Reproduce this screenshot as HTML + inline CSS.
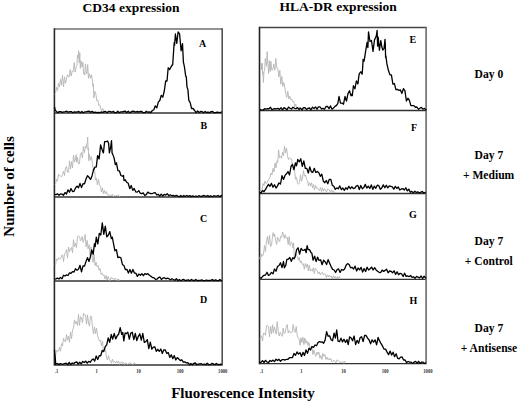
<!DOCTYPE html>
<html><head><meta charset="utf-8"><style>
html,body{margin:0;padding:0;background:#fff;}
body{width:520px;height:402px;overflow:hidden;position:relative;}
svg{position:absolute;left:0;top:0;}
text{font-family:"Liberation Serif",serif;font-weight:bold;fill:#000;}
.lt{font-size:10px;}
.tk{font-size:6.4px;fill:#333;}
.hd{font-size:13.5px;}
.dl{font-size:11.6px;}
.ax{font-size:15px;}
</style></head><body>
<svg width="520" height="402" viewBox="0 0 520 402">
<text x="82.6" y="11.7" class="hd">CD34 expression</text>
<text x="279.6" y="11" class="hd">HLA-DR expression</text>
<text x="488.9" y="77.9" class="dl" text-anchor="middle">Day 0</text>
<text x="488.9" y="158.7" class="dl" text-anchor="middle">Day 7</text>
<text x="488.6" y="178.8" class="dl" text-anchor="middle">+ Medium</text>
<text x="488.9" y="245" class="dl" text-anchor="middle">Day 7</text>
<text x="488.8" y="264.6" class="dl" text-anchor="middle">+ Control</text>
<text x="488.9" y="331.9" class="dl" text-anchor="middle">Day 7</text>
<text x="489" y="351.9" class="dl" text-anchor="middle">+ Antisense</text>
<text x="0" y="0" class="ax" transform="translate(13.55,186.4) rotate(-90)" text-anchor="middle">Number of cells</text>
<text x="171.2" y="398.1" class="ax">Fluorescence Intensity</text>
<line x1="54.4" y1="29" x2="222.2" y2="29" stroke="#707070" stroke-width="1.5"/>
<line x1="54.4" y1="113" x2="222.2" y2="113" stroke="#333" stroke-width="1.3"/>
<line x1="54.4" y1="197" x2="222.2" y2="197" stroke="#333" stroke-width="1.3"/>
<line x1="54.4" y1="281" x2="222.2" y2="281" stroke="#333" stroke-width="1.3"/>
<line x1="54.4" y1="365" x2="222.2" y2="365" stroke="#333" stroke-width="1.3"/>
<line x1="222.2" y1="28.3" x2="222.2" y2="365.6" stroke="#505050" stroke-width="1.6"/>
<line x1="54.4" y1="28.3" x2="54.4" y2="365.6" stroke="#2a2a2a" stroke-width="1.6"/>
<line x1="259.5" y1="27.4" x2="426.1" y2="27.4" stroke="#444" stroke-width="1.5"/>
<line x1="259.5" y1="110.5" x2="426.1" y2="110.5" stroke="#333" stroke-width="1.3"/>
<line x1="259.5" y1="193.5" x2="426.1" y2="193.5" stroke="#333" stroke-width="1.3"/>
<line x1="259.5" y1="279.3" x2="426.1" y2="279.3" stroke="#333" stroke-width="1.3"/>
<line x1="259.5" y1="363.7" x2="426.1" y2="363.7" stroke="#333" stroke-width="1.3"/>
<line x1="426.1" y1="26.7" x2="426.1" y2="364.3" stroke="#6a6a6a" stroke-width="1.6"/>
<line x1="259.5" y1="26.7" x2="259.5" y2="364.3" stroke="#222" stroke-width="1.6"/>
<polyline points="54.5,94.0 55.5,93.2 56.5,87.4 57.5,90.4 58.5,83.2 59.5,86.8 60.5,79.3 61.5,85.2 62.5,75.2 63.5,87.0 64.5,76.8 65.5,83.4 66.4,79.8 67.4,74.7 68.3,75.9 69.2,77.1 70.2,69.5 71.2,76.0 72.2,71.1 73.2,71.6 74.2,62.6 75.2,72.1 76.2,66.7 76.9,66.2 77.5,55.1 78.1,57.9 78.6,50.6 79.2,62.9 79.8,52.8 80.3,68.4 81.1,60.8 82.1,67.1 82.9,62.3 83.6,73.7 84.2,72.7 84.8,75.1 85.4,63.9 86.1,71.6 86.9,73.8 87.7,64.5 88.5,78.3 89.5,73.8 90.5,78.2 91.5,74.8 92.5,81.9 93.0,86.6 93.3,83.9 93.5,86.7 93.8,98.0 94.8,91.3 95.8,93.7 96.8,100.8 97.8,100.0 98.8,105.5 99.8,104.8 100.8,109.3 101.8,110.8 102.8,108.5 103.8,111.6 104.8,110.5 105.8,111.0 106.8,112.7 107.8,111.6 108.8,112.6 109.8,112.1 109.8,112.3" fill="none" stroke="#b4b4b4" stroke-width="0.9" stroke-linejoin="round"/>
<polyline points="54.5,106.8 55.1,109.8 56.3,111.4 57.8,112.6 59.3,111.6 60.8,111.7 62.3,112.3 63.8,111.8 65.3,111.7 66.8,111.2 68.3,112.2 69.8,111.7 71.3,111.6 72.8,112.7 74.3,111.8 75.8,112.2 77.3,112.0 78.8,111.4 80.3,112.7 81.8,111.5 83.3,112.7 84.8,111.9 86.3,111.7 87.8,111.4 89.3,111.2 90.8,112.3 92.3,111.3 93.8,112.7 95.3,112.1 96.8,112.7 98.3,112.4 99.8,112.7 101.3,112.0 102.8,112.3 104.3,111.7 105.8,111.7 107.3,112.7 108.8,111.3 110.3,111.6 111.8,112.2 113.3,111.3 114.8,112.7 116.3,112.7 117.8,111.2 119.3,112.7 120.8,111.8 122.3,111.8 123.8,111.3 125.3,111.2 126.8,112.6 128.3,111.3 129.8,112.7 131.3,111.9 132.8,111.1 134.3,111.5 135.8,112.1 137.3,111.4 138.8,112.1 140.3,111.3 141.8,111.5 143.3,112.7 144.8,112.7 146.3,111.2 147.8,112.2 149.3,111.9 150.8,112.6 152.3,110.5 153.8,109.7 155.3,105.8 156.8,107.9 158.3,102.1 159.8,100.5 161.3,95.3 162.8,97.2 164.3,91.0 165.7,80.9 167.0,81.0 168.2,67.8 169.7,69.5 171.2,66.5 172.7,64.5 173.9,46.4 174.3,42.3 174.6,45.2 175.4,34.0 176.8,43.3 178.1,32.0 179.6,34.0 181.1,50.8 182.5,43.6 183.4,62.1 184.3,66.1 185.0,70.9 185.7,76.2 186.3,76.8 187.0,87.0 187.9,89.6 188.8,100.4 190.1,102.4 191.6,108.5 193.1,108.5 194.6,110.5 196.1,112.7 197.6,110.9 199.1,112.5 200.6,111.4 202.1,111.6 203.6,112.7 205.1,111.5 206.6,112.5 208.1,112.2 209.6,112.7 211.1,111.6 212.6,111.5 214.1,112.7 215.6,112.7 217.1,112.1 218.6,112.3 220.1,112.6 221.6,112.0 221.9,112.3" fill="none" stroke="#000" stroke-width="1.3" stroke-linejoin="round"/>
<polyline points="54.5,184.2 55.5,183.9 56.5,179.5 57.5,181.1 58.5,174.3 59.5,175.9 60.5,176.0 61.5,176.9 62.5,174.5 63.5,171.3 64.5,175.5 65.5,168.1 66.5,166.5 67.5,172.1 68.5,172.3 69.5,160.9 70.5,169.1 71.5,161.7 72.5,167.8 73.5,155.0 74.5,162.1 75.5,159.1 76.1,154.7 76.7,162.1 77.4,157.3 78.4,163.9 79.4,163.7 80.4,154.4 81.4,152.5 82.4,158.0 83.4,146.5 84.4,152.8 85.4,146.2 86.2,148.1 86.8,143.5 87.3,142.7 87.7,137.0 88.0,149.9 88.4,147.9 88.7,160.8 89.4,154.4 90.4,160.2 91.4,156.6 92.4,163.5 93.4,169.9 94.4,167.0 95.4,180.1 96.4,178.0 97.4,184.8 98.4,179.4 99.4,184.9 100.4,186.2 101.4,192.0 102.4,187.8 103.4,193.7 104.4,190.2 105.4,193.9 106.4,191.5 107.4,194.6 108.4,194.4 109.4,196.1 110.4,195.0 111.4,195.8 112.4,194.1 113.4,196.7 114.4,195.5 115.4,196.1 116.4,195.5 117.4,195.9 118.4,195.0 119.4,196.7 119.9,196.0" fill="none" stroke="#b4b4b4" stroke-width="0.9" stroke-linejoin="round"/>
<polyline points="54.5,194.5 56.0,194.6 57.5,193.8 59.0,195.3 60.5,194.0 62.0,194.1 63.5,195.3 65.0,192.6 66.5,194.0 68.0,189.8 69.5,192.2 71.0,188.5 72.5,191.5 74.0,191.3 75.5,188.0 77.0,186.1 78.5,187.8 80.0,183.4 81.5,187.6 83.0,183.7 84.5,183.8 86.0,179.0 87.5,175.7 89.0,177.3 90.5,179.4 92.0,175.9 93.5,169.9 95.0,167.1 96.3,166.9 97.6,155.6 99.1,159.0 100.6,144.9 102.0,149.2 103.4,152.9 104.6,141.7 106.1,141.6 107.6,141.0 108.6,143.4 109.4,152.9 110.1,149.5 110.8,146.4 111.5,140.6 112.1,153.2 112.8,154.4 114.2,158.4 115.3,164.7 116.4,162.7 117.9,170.6 119.4,170.8 120.9,175.5 122.4,176.3 123.5,175.5 124.0,180.5 125.2,179.8 126.8,182.3 128.2,183.3 129.8,188.7 131.2,185.5 132.8,190.4 134.2,188.4 135.8,191.9 137.2,192.1 138.8,190.6 140.2,193.1 141.8,193.7 143.2,192.9 144.8,195.5 146.2,194.6 147.8,192.1 149.2,193.1 150.8,193.5 152.2,193.7 153.8,192.8 155.2,192.7 156.8,195.0 158.2,194.3 159.8,196.1 161.2,194.1 162.8,196.0 164.2,194.4 165.8,195.1 167.2,193.7 168.8,195.7 170.2,194.8 171.8,195.7 173.2,195.4 174.8,196.2 176.2,195.4 177.8,196.2 179.2,196.7 180.8,195.5 182.2,196.7 183.8,195.4 185.2,196.5 186.8,195.5 188.2,196.3 189.8,195.6 191.2,196.7 192.8,195.9 194.2,196.7 195.8,196.0 197.2,196.7 198.8,195.7 200.2,196.2 201.8,196.5 203.2,195.5 204.8,195.9 206.2,196.3 207.8,195.5 209.2,196.7 210.8,195.9 212.2,196.7 213.8,195.7 215.2,196.1 216.8,196.1 218.2,195.5 219.8,196.7 221.2,195.5 222.0,196.3" fill="none" stroke="#000" stroke-width="1.3" stroke-linejoin="round"/>
<polyline points="54.5,264.1 55.5,265.0 56.5,258.9 57.5,260.2 58.5,257.8 59.5,259.0 60.5,258.8 61.5,255.8 62.5,254.8 63.5,261.6 64.5,253.8 65.5,252.7 66.5,249.6 67.5,258.1 68.5,247.0 69.5,251.6 70.5,249.1 71.5,247.5 72.5,252.8 73.5,239.6 74.5,246.9 75.5,243.2 76.5,247.6 77.5,236.3 78.5,235.7 79.5,236.8 80.5,240.9 81.3,239.5 82.2,236.4 83.1,242.4 84.1,239.9 85.1,234.5 86.1,246.7 87.1,240.3 88.1,248.9 89.1,244.7 90.1,255.6 91.1,246.9 92.1,255.8 93.1,262.4 94.1,254.8 95.1,265.6 96.1,262.2 97.1,266.8 98.1,265.4 99.1,270.3 100.1,268.5 101.1,274.4 102.1,273.1 103.1,275.7 104.1,275.1 105.1,279.2 106.1,275.5 107.1,280.2 108.1,276.5 109.1,279.5 110.1,280.7 111.1,277.4 112.1,278.9 113.1,278.4 114.1,279.7 115.1,278.0 116.1,279.4 117.1,280.6 118.1,278.9 119.1,280.4 119.9,279.9" fill="none" stroke="#b4b4b4" stroke-width="0.9" stroke-linejoin="round"/>
<polyline points="54.5,279.1 56.0,278.9 57.5,278.1 59.0,279.0 60.5,277.4 62.0,278.7 63.5,275.2 65.0,276.0 66.5,274.8 68.0,275.5 69.5,272.9 71.0,273.3 72.5,271.6 74.0,272.0 75.5,268.8 77.0,270.2 78.5,269.3 80.0,265.3 81.5,271.9 83.0,265.8 84.5,266.1 86.0,261.4 87.5,257.7 89.0,261.5 90.4,256.7 91.8,250.0 93.2,254.4 94.4,243.7 95.2,246.7 96.3,237.1 97.8,243.9 99.3,233.4 100.8,235.0 102.3,222.9 103.8,234.3 105.3,226.1 106.8,236.8 108.3,235.3 109.8,231.6 111.3,238.7 112.3,237.1 113.4,243.0 114.9,250.8 116.4,249.6 117.9,257.6 119.4,257.2 120.9,257.8 122.4,264.4 123.9,265.5 125.4,269.7 126.9,269.3 128.4,273.0 129.9,269.6 131.4,273.2 132.9,269.5 134.4,273.1 135.9,273.2 137.4,276.4 138.9,274.0 140.4,275.2 141.9,273.6 143.4,275.7 144.9,273.6 146.4,274.3 147.9,273.7 149.4,275.3 150.9,276.2 152.4,277.6 153.9,277.6 155.4,279.3 156.9,279.2 158.4,277.7 159.9,277.0 161.4,279.5 162.9,278.1 164.4,277.7 165.9,278.8 167.4,278.2 168.9,278.7 170.4,279.8 171.9,278.7 173.4,279.5 174.9,280.3 176.4,278.7 177.9,280.7 179.4,279.6 180.9,280.7 182.4,279.7 183.9,279.5 185.4,280.7 186.9,280.1 188.4,279.8 189.9,280.7 191.4,279.5 192.9,280.3 194.4,280.5 195.9,279.5 197.4,280.7 198.9,280.3 200.4,280.3 201.9,279.8 203.4,280.7 204.9,280.6 206.4,280.0 207.9,280.7 209.4,280.3 210.9,280.4 212.4,279.5 213.9,280.7 215.4,279.8 216.9,280.3 218.4,280.7 219.9,279.5 221.4,280.7 221.9,280.3" fill="none" stroke="#000" stroke-width="1.3" stroke-linejoin="round"/>
<polyline points="54.5,352.7 55.5,355.7 56.5,350.1 57.5,351.4 58.5,351.1 59.5,347.3 60.5,351.2 61.5,343.6 62.5,346.0 63.5,338.1 64.5,341.0 65.5,342.0 66.5,334.5 67.5,340.3 68.5,336.0 69.5,342.4 70.5,332.1 71.5,338.7 72.5,330.0 73.5,328.1 74.5,319.9 75.5,323.9 76.5,321.4 77.5,325.5 78.5,314.3 79.5,325.4 80.5,316.7 81.5,317.9 82.5,322.6 83.5,313.4 84.5,315.0 85.5,315.0 86.5,324.1 87.5,314.9 88.5,323.0 89.5,326.3 90.5,316.0 91.5,316.7 92.5,327.2 93.5,333.9 94.5,326.9 95.5,333.5 96.5,328.1 97.5,335.3 98.5,338.7 99.5,341.2 100.5,340.1 101.5,345.8 102.5,341.3 103.5,352.1 104.5,348.4 105.5,349.7 106.5,358.2 107.5,359.9 108.5,355.5 109.5,359.8 110.5,360.6 111.5,363.2 112.5,359.1 113.5,362.2 114.5,361.4 115.5,362.8 116.5,360.9 117.5,363.1 118.5,360.9 119.5,364.5 120.5,363.4 121.5,361.7 122.5,363.5 123.5,362.2 124.5,364.7 125.5,363.2 126.5,363.2 127.5,364.4 128.5,363.7 129.5,362.4 130.5,363.8 131.5,363.3 132.5,364.7 133.5,364.1 134.5,362.6 135.0,364.0" fill="none" stroke="#b4b4b4" stroke-width="0.9" stroke-linejoin="round"/>
<polyline points="54.5,349.9 54.8,354.2 55.2,357.0 55.7,364.3 57.2,363.5 58.7,364.6 60.2,363.6 61.7,364.2 63.2,364.1 64.7,363.6 66.2,363.1 67.7,364.7 69.2,362.4 70.7,364.6 72.2,363.0 73.7,363.7 75.2,362.3 76.7,362.0 78.2,364.0 79.7,362.3 81.2,363.8 82.7,361.4 84.2,362.5 85.7,361.1 87.2,363.2 88.7,361.4 90.2,362.3 91.7,360.0 93.2,358.9 94.7,361.1 96.2,355.9 97.7,359.5 99.2,355.7 100.7,355.8 102.2,350.5 103.7,351.6 105.2,346.7 106.7,344.8 108.2,338.0 109.7,342.3 111.2,334.5 112.7,339.2 114.2,333.4 115.7,338.9 117.2,335.9 118.7,334.0 120.2,327.7 121.7,334.3 122.8,332.5 123.8,340.9 125.1,333.0 126.3,333.6 127.8,332.1 129.3,339.2 130.8,333.0 132.3,332.3 133.8,339.6 135.3,333.4 136.8,340.5 138.3,336.5 139.8,333.8 141.3,340.1 142.8,333.5 144.3,342.4 145.8,341.6 147.3,339.6 148.8,348.6 150.3,342.1 151.8,349.0 153.3,347.2 154.8,346.8 156.3,351.3 157.8,349.3 159.3,351.3 160.8,349.0 162.3,353.5 163.8,349.8 165.3,350.0 166.8,353.4 168.3,352.6 169.8,357.4 171.3,354.7 172.8,358.7 174.3,355.6 175.8,360.0 177.3,357.6 178.8,359.0 180.3,360.6 181.8,359.8 183.3,362.2 184.8,361.8 186.3,362.9 187.8,362.6 189.3,364.7 190.8,363.4 192.3,364.7 193.8,363.3 195.3,363.0 196.8,364.7 198.3,364.1 199.8,363.9 201.3,363.7 202.8,364.5 204.3,364.0 205.8,364.7 207.3,363.2 208.8,364.7 210.3,364.7 211.8,363.4 213.3,363.9 214.8,364.7 216.3,363.4 217.8,364.5 219.3,364.7 220.8,364.1 221.8,364.3" fill="none" stroke="#000" stroke-width="1.3" stroke-linejoin="round"/>
<polyline points="260.0,67.5 260.6,67.3 261.2,63.1 261.7,69.7 262.0,65.8 262.3,63.4 262.6,74.2 262.9,72.0 263.4,82.4 264.0,71.4 264.7,69.9 265.3,58.5 266.0,62.9 266.6,66.2 267.2,51.6 267.6,63.1 268.1,64.7 268.6,73.5 269.3,60.5 270.1,71.5 270.9,61.3 271.8,70.2 272.8,69.5 273.8,64.1 274.8,70.3 275.8,58.5 276.8,68.1 277.8,68.3 278.8,77.0 279.8,70.3 280.8,84.2 281.8,76.5 282.8,86.4 283.8,82.5 284.8,87.5 285.8,93.9 286.8,97.3 287.8,91.2 288.8,99.0 289.8,96.2 290.8,100.0 291.8,99.2 292.8,101.8 293.8,101.3 294.8,106.8 295.8,104.1 296.8,109.3 297.8,107.4 298.8,109.8 299.8,107.0 300.8,110.2 301.8,108.3 302.8,108.9 303.8,110.2 304.8,108.6 304.8,109.2" fill="none" stroke="#b4b4b4" stroke-width="0.9" stroke-linejoin="round"/>
<polyline points="260.0,109.4 261.5,110.2 263.0,110.2 264.5,108.7 266.0,109.1 267.5,108.7 269.0,108.8 270.5,107.3 272.0,109.9 273.5,108.8 275.0,108.6 276.5,108.9 278.0,108.3 279.5,109.4 281.0,107.7 282.5,109.8 284.0,107.6 285.5,108.6 287.0,109.8 288.5,107.1 290.0,108.2 291.5,109.0 293.0,107.2 294.5,108.3 296.0,108.7 297.5,107.6 299.0,109.4 300.5,108.1 302.0,109.9 303.5,107.6 305.0,107.7 306.5,109.4 308.0,108.3 309.5,108.0 311.0,109.8 312.5,107.1 314.0,108.6 315.5,106.9 317.0,109.2 318.5,106.8 320.0,106.8 321.5,109.0 323.0,108.3 324.5,109.2 326.0,106.5 327.5,106.4 329.0,108.6 330.5,105.9 332.0,109.2 333.5,108.0 335.0,106.4 336.5,105.4 337.8,103.6 339.0,96.5 340.5,103.1 342.0,103.1 343.5,104.2 345.0,96.5 346.5,101.1 348.0,93.5 349.5,90.8 351.0,95.9 351.5,94.3 352.3,95.6 353.4,85.7 354.9,88.8 356.4,81.0 357.9,84.0 358.8,76.3 359.3,73.7 360.8,71.8 362.1,74.1 362.6,68.5 363.1,59.4 364.1,61.1 365.6,51.3 367.1,42.3 367.9,47.6 368.5,31.9 370.0,41.5 371.5,40.5 373.0,51.3 374.5,39.9 375.5,37.8 376.4,35.6 377.1,30.4 377.6,46.1 378.2,37.2 379.4,50.1 380.8,40.7 381.8,46.8 382.8,50.1 384.0,48.7 385.0,39.4 385.3,44.1 385.6,57.6 385.9,56.0 386.9,63.9 388.4,70.3 389.9,74.9 391.4,74.9 392.9,84.2 394.4,83.6 395.9,89.6 397.4,89.3 398.9,90.4 400.4,89.9 401.9,93.4 403.4,88.7 404.9,90.6 406.4,101.0 407.9,98.2 409.4,100.4 410.9,105.6 412.4,105.7 413.9,105.6 415.4,107.3 416.9,107.0 418.4,109.2 419.9,108.3 421.4,107.4 422.9,109.2 424.4,108.4 425.9,110.0 425.9,109.3" fill="none" stroke="#000" stroke-width="1.3" stroke-linejoin="round"/>
<polyline points="260.0,190.1 261.0,191.6 262.0,190.3 263.0,183.5 264.0,185.4 265.0,181.0 266.0,183.7 267.0,182.7 268.0,180.3 269.0,179.5 270.0,177.0 271.0,173.1 272.0,175.0 273.0,168.3 274.0,171.9 275.0,163.0 276.0,167.8 277.0,160.8 277.8,162.5 278.6,149.8 279.5,157.6 280.5,156.4 281.5,158.2 282.5,152.2 283.5,155.7 284.5,146.1 285.5,153.1 286.5,148.0 287.5,155.8 288.5,159.6 289.5,157.8 290.5,158.9 291.5,158.9 292.5,167.0 293.5,169.8 294.5,170.0 295.5,179.2 296.5,177.5 297.5,183.3 298.5,184.2 299.5,182.5 300.5,174.7 301.5,181.3 302.5,178.0 303.5,170.6 304.5,176.2 305.5,175.0 306.5,179.4 307.5,180.6 308.5,185.8 309.5,182.8 310.5,186.0 311.5,182.7 312.5,187.6 313.5,184.5 314.5,189.9 315.5,185.4 316.5,188.3 317.5,187.7 318.5,189.5 319.5,190.7 320.5,187.6 321.5,191.6 322.5,187.7 323.5,191.2 324.5,188.7 325.5,190.3 326.5,192.1 327.5,188.9 328.5,189.4 329.5,190.1 330.5,193.2 331.5,189.7 332.5,192.4 333.5,190.9 334.5,192.8 335.0,191.9" fill="none" stroke="#b4b4b4" stroke-width="0.9" stroke-linejoin="round"/>
<polyline points="259.5,192.3 261.0,192.9 262.5,190.6 264.0,191.7 265.5,189.4 267.0,186.7 268.5,184.3 270.0,186.3 271.5,183.4 273.0,187.3 274.5,184.7 276.0,188.1 277.5,185.9 279.0,182.9 280.5,184.0 282.0,175.7 283.5,179.4 285.0,175.4 286.5,173.8 288.0,171.6 289.5,175.0 291.0,166.5 292.5,164.4 294.0,169.7 295.4,162.8 296.5,165.8 297.8,159.5 299.3,161.9 300.8,158.8 302.3,166.4 303.8,161.0 305.3,168.4 306.8,168.4 308.3,173.0 309.8,166.9 311.3,171.8 312.8,172.4 314.3,168.3 315.8,172.6 317.3,171.4 318.8,172.8 320.3,176.3 321.8,174.2 323.3,181.1 324.8,182.7 326.3,180.5 327.8,183.8 329.3,179.3 330.8,179.4 332.3,185.3 333.8,186.3 335.3,189.4 336.8,187.9 338.3,188.8 339.8,185.9 341.3,189.6 342.8,188.0 344.3,190.4 345.8,187.8 347.3,189.3 348.8,186.4 350.3,188.7 351.8,186.8 353.3,188.5 354.8,188.1 356.3,186.0 357.8,185.4 359.3,189.5 360.8,185.5 362.3,188.8 363.8,187.6 365.3,184.4 366.8,188.1 368.3,186.1 369.8,188.5 371.3,184.9 372.8,189.4 374.3,186.1 375.8,188.3 377.3,185.2 378.8,185.7 380.3,189.3 381.8,187.9 383.3,184.9 384.8,187.8 386.3,185.2 387.8,187.9 389.3,185.8 390.8,186.4 392.3,186.8 393.8,189.2 395.3,186.4 396.8,188.4 398.3,187.0 399.8,190.0 401.3,189.0 402.8,188.6 404.3,190.0 405.8,187.8 407.3,190.9 408.8,189.1 410.3,192.3 411.8,191.4 413.3,192.9 414.8,191.2 416.3,192.4 417.8,191.9 419.3,192.8 420.8,192.2 422.3,191.5 423.8,193.2 425.3,192.4 425.8,192.5" fill="none" stroke="#000" stroke-width="1.3" stroke-linejoin="round"/>
<polyline points="259.5,257.2 260.5,260.0 261.5,253.8 262.5,256.2 263.5,254.1 264.5,245.6 265.5,251.5 266.5,240.5 267.5,236.5 268.5,244.4 269.5,235.3 270.5,246.6 271.5,245.2 272.3,238.6 273.1,232.6 273.8,236.3 274.6,234.1 275.6,240.0 276.6,244.4 277.6,237.1 278.6,240.6 279.6,241.8 280.6,236.4 281.6,237.2 282.6,232.0 283.5,234.8 284.3,238.4 285.2,234.7 286.2,238.2 287.2,237.1 288.2,244.6 289.2,236.6 290.2,245.7 291.2,242.2 292.2,243.1 293.0,248.1 293.6,242.9 294.3,257.2 295.3,256.3 296.3,254.3 297.3,256.4 298.3,260.2 299.3,257.3 300.3,262.7 301.3,260.9 302.3,264.6 303.3,263.7 304.3,269.3 305.3,263.5 306.3,267.3 307.3,263.9 308.3,270.8 309.3,265.0 310.3,271.0 311.3,269.4 312.3,271.2 313.3,267.8 314.3,273.6 315.3,268.0 316.3,269.4 317.3,270.9 318.3,273.9 319.3,271.9 320.3,274.9 321.3,272.9 322.3,272.2 323.3,274.9 324.3,273.5 325.3,274.4 326.3,277.5 327.3,274.9 328.3,276.9 329.3,275.1 330.3,277.1 331.3,276.1 332.3,278.8 333.3,275.6 334.3,278.2 335.3,276.4 336.3,279.0 337.3,276.7 338.3,279.0 339.3,276.3 339.8,277.9" fill="none" stroke="#b4b4b4" stroke-width="0.9" stroke-linejoin="round"/>
<polyline points="259.5,277.4 261.0,278.3 262.5,276.6 264.0,275.3 265.5,275.0 267.0,272.2 268.5,275.5 270.0,274.4 271.5,272.4 273.0,273.9 274.5,269.0 276.0,271.2 277.5,266.5 279.0,265.5 280.5,262.8 282.0,267.6 283.5,261.5 284.4,267.8 285.0,266.7 285.8,265.4 286.8,259.5 288.3,259.2 289.8,257.5 291.3,261.3 292.8,257.7 294.1,258.8 295.2,256.6 296.6,249.6 298.1,247.8 299.6,254.0 301.1,248.3 302.6,250.3 304.1,250.1 305.2,249.3 306.2,252.7 307.1,245.7 308.2,249.7 309.5,249.6 310.9,252.4 311.9,253.3 313.1,260.2 314.6,256.1 316.1,261.6 317.6,257.2 319.1,260.5 320.6,259.7 322.1,264.7 323.6,260.2 325.1,261.7 326.6,264.5 328.1,259.6 329.6,263.2 331.1,266.6 332.6,269.4 334.1,270.0 335.6,272.5 337.1,269.5 338.6,268.9 340.1,272.5 341.6,269.5 343.1,270.3 344.6,269.1 346.1,265.2 347.6,263.6 349.1,264.5 350.6,267.8 352.1,267.4 353.6,269.0 355.1,266.1 356.6,271.0 358.1,268.0 359.6,269.9 361.1,267.4 362.6,272.1 364.1,268.5 365.6,271.5 367.1,267.2 368.6,270.0 370.1,268.8 371.6,267.1 373.1,270.0 374.6,267.7 376.1,269.9 377.6,271.3 379.1,272.3 380.6,272.6 382.1,270.1 383.6,271.4 385.1,270.4 386.6,269.2 388.1,272.8 389.6,271.0 391.1,271.3 392.6,272.9 394.1,270.8 395.6,274.4 397.1,271.8 398.6,274.7 400.1,273.3 401.6,273.8 403.1,276.5 404.6,273.2 406.1,276.4 407.6,275.8 409.1,276.7 410.6,275.5 412.1,277.3 413.6,276.8 415.1,278.4 416.6,276.4 418.1,277.2 419.6,277.8 421.1,276.0 422.6,278.5 424.1,276.2 425.6,277.8 425.9,277.5" fill="none" stroke="#000" stroke-width="1.3" stroke-linejoin="round"/>
<polyline points="259.5,339.1 260.5,338.5 261.5,335.7 262.5,341.0 263.5,333.0 264.5,333.1 265.5,335.3 266.5,325.7 267.5,325.4 268.5,326.6 269.5,337.0 270.5,326.4 271.5,333.8 272.5,324.8 273.4,333.0 274.3,326.9 275.2,330.2 276.2,334.2 277.2,321.7 278.2,331.2 279.2,336.1 280.2,332.3 281.2,334.6 282.2,336.3 283.2,328.1 284.2,333.7 285.2,332.6 286.2,327.3 287.2,324.5 288.2,332.9 289.2,330.5 290.2,332.4 291.2,332.8 292.2,332.0 293.2,324.5 294.2,330.8 295.2,332.4 296.2,326.6 297.2,335.1 298.1,337.8 299.1,338.8 300.1,345.3 301.0,337.8 301.9,342.4 302.9,337.2 303.9,344.6 304.9,338.0 305.9,343.3 306.9,340.8 307.9,345.6 308.9,342.4 309.9,347.1 310.9,349.0 311.9,346.2 312.9,354.6 313.9,350.1 314.9,354.0 315.9,356.4 316.9,352.0 317.9,354.5 318.9,352.2 319.9,358.2 320.9,355.5 321.9,359.5 322.9,353.4 323.9,356.3 324.9,354.4 325.9,359.4 326.9,357.0 327.9,359.7 328.9,358.2 329.9,360.1 330.9,358.7 331.9,361.8 332.9,361.3 333.9,360.1 334.9,361.6 335.9,363.0 336.9,359.9 337.9,360.5 338.9,361.4 339.9,362.1 340.9,361.9 341.9,362.5 342.9,361.5 343.9,363.4 344.9,361.1 344.9,362.4" fill="none" stroke="#b4b4b4" stroke-width="0.9" stroke-linejoin="round"/>
<polyline points="259.5,362.3 261.0,362.3 262.5,360.6 264.0,362.5 265.5,360.4 267.0,362.0 268.5,362.6 270.0,360.5 271.5,361.4 273.0,360.1 274.5,361.6 276.0,359.2 277.5,360.6 279.0,359.3 280.5,361.3 282.0,359.6 283.5,359.6 285.0,360.0 286.5,359.3 288.0,359.3 289.5,357.7 291.0,357.6 292.5,357.5 294.0,353.5 295.5,355.2 297.0,351.9 298.5,354.1 300.0,352.6 301.5,356.4 303.0,352.4 304.5,355.5 306.0,350.0 307.5,353.3 309.0,348.1 310.5,350.0 312.0,346.5 313.5,347.4 315.0,345.0 316.5,345.8 318.0,342.5 319.5,341.6 321.0,342.1 322.3,342.0 323.6,343.2 325.1,340.1 326.6,331.7 328.1,336.2 329.6,335.8 331.1,339.7 332.6,340.7 334.1,333.1 335.4,338.0 336.7,330.0 338.0,341.1 339.5,341.7 341.0,338.2 342.5,341.9 344.0,339.3 345.5,342.5 347.0,339.6 348.2,344.6 349.6,336.8 351.1,337.9 352.6,340.8 354.1,336.0 355.6,344.5 357.1,340.4 358.6,343.3 360.1,337.6 361.6,336.8 363.1,341.6 364.6,335.3 366.1,335.5 367.6,338.1 369.1,340.0 370.6,343.8 372.1,339.8 373.6,342.1 375.1,339.9 376.6,344.9 378.1,337.5 379.6,340.9 381.1,343.7 382.6,346.2 384.1,349.2 385.6,349.1 387.1,352.1 388.6,354.8 390.1,351.1 391.6,355.1 393.1,352.2 394.6,356.7 396.1,353.8 397.6,358.1 399.1,358.9 400.6,357.1 402.1,357.0 403.6,360.0 405.1,360.0 406.6,362.6 408.1,361.5 409.6,362.2 411.1,362.2 412.6,363.4 414.1,362.1 415.6,361.4 417.1,363.3 418.6,361.3 420.1,363.4 421.6,362.1 423.1,362.2 424.6,363.4 425.8,362.5" fill="none" stroke="#000" stroke-width="1.3" stroke-linejoin="round"/>
<text x="199" y="47" class="lt">A</text>
<text x="200.6" y="129.1" class="lt">B</text>
<text x="200.1" y="221.6" class="lt">C</text>
<text x="200.1" y="303.4" class="lt">D</text>
<text x="409.6" y="43" class="lt">E</text>
<text x="411.1" y="130.5" class="lt">F</text>
<text x="409" y="217.8" class="lt">G</text>
<text x="409.6" y="303.8" class="lt">H</text>
<text transform="translate(56.5,372.8) scale(0.72,1)" class="tk" text-anchor="middle">.1</text>
<text transform="translate(96.7,372.8) scale(0.72,1)" class="tk" text-anchor="middle">1</text>
<text transform="translate(138.5,372.8) scale(0.72,1)" class="tk" text-anchor="middle">10</text>
<text transform="translate(180.2,372.8) scale(0.72,1)" class="tk" text-anchor="middle">100</text>
<text transform="translate(222.7,372.8) scale(0.72,1)" class="tk" text-anchor="middle">1000</text>
<text transform="translate(261.5,372.6) scale(0.72,1)" class="tk" text-anchor="middle">.1</text>
<text transform="translate(301.5,372.6) scale(0.72,1)" class="tk" text-anchor="middle">1</text>
<text transform="translate(343.6,372.6) scale(0.72,1)" class="tk" text-anchor="middle">10</text>
<text transform="translate(385.2,372.6) scale(0.72,1)" class="tk" text-anchor="middle">100</text>
<text transform="translate(427.9,372.6) scale(0.72,1)" class="tk" text-anchor="middle">1000</text>
</svg>
</body></html>
